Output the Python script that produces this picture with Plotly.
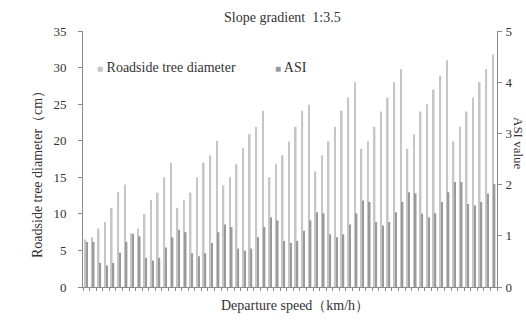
import plotly.graph_objects as go

categories = list(range(1, 64))
diameter = [6.5, 6.8, 8.0, 8.9, 10.8, 13.0, 14.0,
            7.3, 8.0, 10.0, 11.9, 12.9, 15.0, 17.0,
            10.8, 11.9, 12.9, 15.0, 17.0, 18.0, 20.0,
            13.9, 15.0, 16.8, 19.0, 20.9, 21.9, 24.1,
            15.0, 16.8, 18.0, 19.9, 21.9, 24.1, 24.9,
            15.8, 18.0, 19.9, 21.9, 24.1, 25.9, 28.0,
            18.9, 19.9, 21.9, 24.0, 25.9, 28.0, 29.8,
            18.9, 20.9, 24.0, 25.0, 27.0, 28.9, 31.0,
            19.9, 21.9, 24.0, 25.9, 28.0, 29.8, 31.8]
asi = [0.88, 0.88, 0.47, 0.42, 0.47, 0.67, 0.88,
       1.04, 0.99, 0.57, 0.52, 0.57, 0.77, 0.97,
       1.12, 1.07, 0.66, 0.60, 0.66, 0.86, 1.07,
       1.22, 1.17, 0.75, 0.71, 0.75, 0.97, 1.17,
       1.36, 1.30, 0.90, 0.86, 0.90, 1.10, 1.30,
       1.46, 1.44, 1.03, 0.97, 1.03, 1.22, 1.44,
       1.69, 1.66, 1.27, 1.20, 1.27, 1.46, 1.66,
       1.85, 1.83, 1.43, 1.36, 1.44, 1.66, 1.85,
       2.05, 2.05, 1.62, 1.59, 1.66, 1.82, 2.01]

series_names = ["Roadside tree diameter", "ASI"]
series_colors = ["#c6c6c6", "#9a9a9a"]

FONT = "Liberation Serif"
TXT = "#333333"
AX = "#8a8a8a"
FS = 14
TFS = 13

fig = go.Figure()
fig.add_trace(go.Bar(x=categories, y=diameter, name=series_names[0],
                     marker=dict(color=series_colors[0], line=dict(width=0)),
                     offsetgroup="a", yaxis="y"))
fig.add_trace(go.Bar(x=categories, y=asi, name=series_names[1],
                     marker=dict(color=series_colors[1], line=dict(width=0)),
                     offsetgroup="b", yaxis="y2"))

# plot area in paper coords: x 83..497, y 31..287 (px)
def px_x(x):
    return (x - 83) / 414.0

def px_y(y):
    return (287 - y) / 256.0

annotations = [
    dict(text="Slope gradient  1:3.5", x=px_x(282), y=px_y(17), xref="paper", yref="paper",
         xanchor="center", yanchor="middle", showarrow=False,
         font=dict(family=FONT, size=FS, color=TXT)),
    dict(text="Departure speed（km/h）", x=px_x(295), y=px_y(305), xref="paper", yref="paper",
         xanchor="center", yanchor="middle", showarrow=False,
         font=dict(family=FONT, size=FS, color=TXT)),
    dict(text="Roadside tree diameter（cm）", x=px_x(37), y=px_y(171), xref="paper", yref="paper",
         xanchor="center", yanchor="middle", showarrow=False, textangle=-90,
         font=dict(family=FONT, size=FS, color=TXT)),
    dict(text="ASI value", x=px_x(519), y=px_y(143), xref="paper", yref="paper",
         xanchor="center", yanchor="middle", showarrow=False, textangle=90,
         font=dict(family=FONT, size=TFS, color=TXT)),
    dict(text=f'<span style="color:{series_colors[0]};font-size:10px">■</span> {series_names[0]}',
         x=px_x(95), y=px_y(67), xref="paper", yref="paper",
         xanchor="left", yanchor="middle", showarrow=False,
         font=dict(family=FONT, size=FS, color=TXT)),
    dict(text=f'<span style="color:{series_colors[1]};font-size:10px">■</span> {series_names[1]}',
         x=px_x(273), y=px_y(67), xref="paper", yref="paper",
         xanchor="left", yanchor="middle", showarrow=False,
         font=dict(family=FONT, size=FS, color=TXT)),
]

fig.update_layout(
    width=526, height=320,
    margin=dict(l=83, r=29, t=31, b=33),
    paper_bgcolor="white", plot_bgcolor="white",
    font=dict(family=FONT, size=FS, color=TXT),
    barmode="group", bargap=0.5, bargroupgap=0,
    showlegend=False,
    annotations=annotations,
    xaxis=dict(range=[0.5, 63.5], showticklabels=False, tickmode="linear",
               tick0=0.5, dtick=1, ticks="outside", ticklen=3, tickcolor=AX,
               showline=True, linecolor=AX, linewidth=1, showgrid=False, zeroline=False),
    yaxis=dict(range=[0, 35], dtick=5, ticks="outside", ticklen=4, tickcolor=AX,
               ticklabelstandoff=9,
               showline=True, linecolor=AX, linewidth=1, showgrid=False, zeroline=False,
               tickfont=dict(family=FONT, size=TFS, color=TXT)),
    yaxis2=dict(range=[0, 5], dtick=1, overlaying="y", side="right",
                ticks="outside", ticklen=4, tickcolor=AX, ticklabelstandoff=1,
                showline=True, linecolor=AX, linewidth=1, showgrid=False, zeroline=False,
                tickfont=dict(family=FONT, size=TFS, color=TXT)),
)

fig.write_html("out.html")
